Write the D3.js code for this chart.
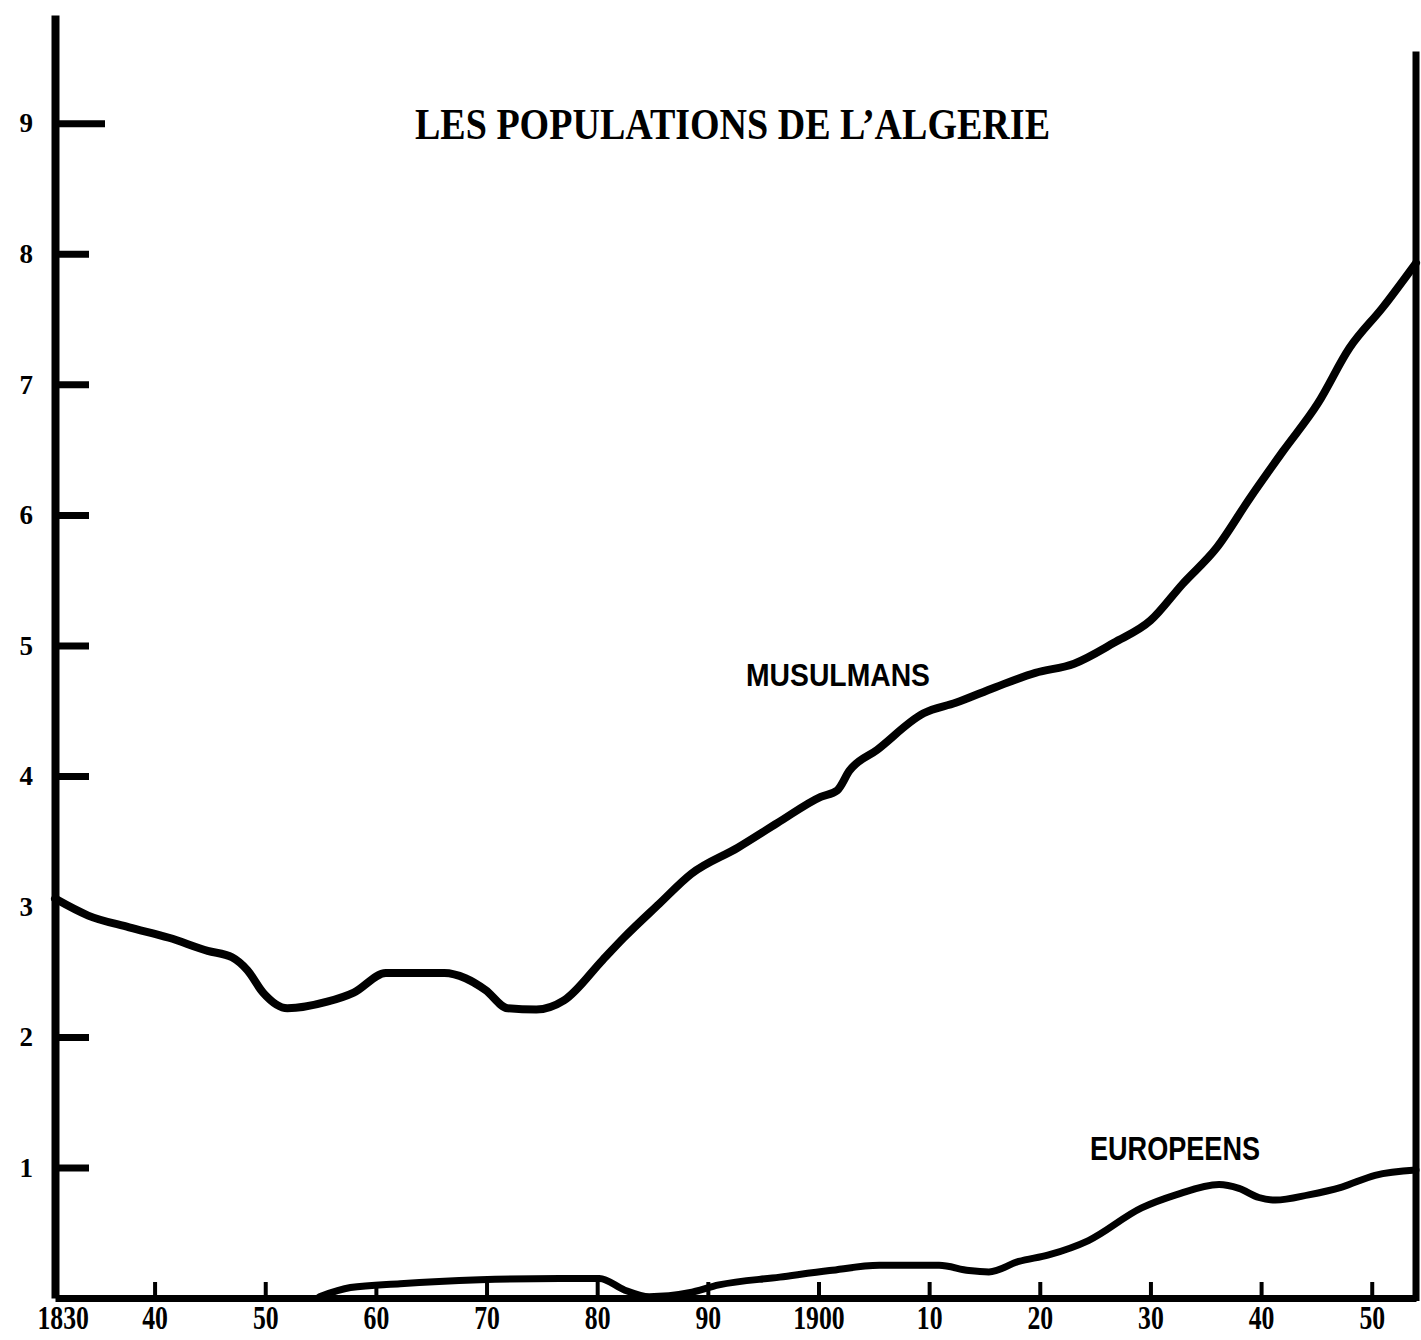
<!DOCTYPE html>
<html>
<head>
<title>Les populations de l'Algérie</title>
<meta charset="utf-8">
<style type="text/css">
body {
	margin: 0;
	background: #fff;
}
svg text {
	fill: #000;
}
</style>
<script src="https://cdn.jsdelivr.net/npm/d3@7/dist/d3.min.js"></script>
</head>
<body>
</body>
<script type="text/javascript">
var width = 1421;
var height = 1340;

// population en millions
var musYears  = [1831, 1834, 1837.7, 1841.3, 1844.8, 1847, 1848.4, 1849.8, 1852, 1855.6, 1858, 1860.9,
	1866.2, 1868.1, 1869.9, 1871.9, 1874.5, 1877, 1880.5, 1882.4, 1885.6, 1888.5, 1892.7, 1896.3,
	1900.2, 1901.7, 1902.8, 1905.3, 1909.5, 1912.4, 1916, 1919.6, 1923.1, 1926.7, 1930, 1932.9,
	1936, 1939, 1942, 1945.1, 1948, 1951, 1954];
var musValues = [3.06, 2.93, 2.84, 2.76, 2.66, 2.61, 2.51, 2.34, 2.22, 2.27, 2.34, 2.49,
	2.49, 2.45, 2.36, 2.22, 2.21, 2.28, 2.59, 2.76, 3.02, 3.25, 3.45, 3.64,
	3.84, 3.89, 4.04, 4.20, 4.48, 4.56, 4.68, 4.79, 4.86, 5.02, 5.19, 5.47,
	5.75, 6.13, 6.49, 6.85, 7.28, 7.59, 7.93];

var eurYears  = [1854.9, 1857.7, 1862.2, 1869.4, 1876.6, 1880.2, 1882.5, 1884.7, 1888.3, 1891, 1896.5,
	1901, 1905.5, 1910.9, 1913.6, 1915.4, 1918.1, 1920.8, 1924.4, 1929.2, 1932.3, 1936.2, 1938,
	1939.8, 1941.3, 1944.3, 1947.3, 1950.3, 1954];
var eurValues = [0.01, 0.08, 0.11, 0.14, 0.15, 0.15, 0.06, 0.01, 0.04, 0.10, 0.16,
	0.21, 0.25, 0.25, 0.21, 0.20, 0.28, 0.33, 0.44, 0.69, 0.79, 0.87, 0.84,
	0.77, 0.75, 0.79, 0.85, 0.94, 0.98];

var yearTicks  = [1830, 1840, 1850, 1860, 1870, 1880, 1890, 1900, 1910, 1920, 1930, 1940, 1950];
var yearLabels = ["1830", "40", "50", "60", "70", "80", "90", "1900", "10", "20", "30", "40", "50"];
var valueTicks = [1, 2, 3, 4, 5, 6, 7, 8, 9];

var title = "LES POPULATIONS DE L\u2019ALGERIE";
var musLabel = "MUSULMANS";
var eurLabel = "EUROPEENS";

var svg = d3.select("body").append("svg")
	.attr("width", width)
	.attr("height", height);

var x = d3.scaleLinear().domain([1831, 1954]).range([55, 1416]);
var y = d3.scaleLinear().domain([0, 9.83]).range([1298, 15]);

// axe vertical
var yAxis = svg.append("g")
	.attr("transform", "translate(" + x(1831) + ",0)")
	.call(d3.axisLeft(y).tickValues(valueTicks).tickSizeInner(-34).tickSizeOuter(0).tickPadding(22));
yAxis.select(".domain").attr("stroke", "#000").attr("stroke-width", 8);
yAxis.selectAll(".tick line").attr("stroke", "#000").attr("stroke-width", 7);
yAxis.selectAll(".tick line").filter(function(d){ return d == 9; }).attr("x2", 50);
yAxis.selectAll(".tick line").filter(function(d){ return d == 3; }).remove();
yAxis.selectAll(".tick text")
	.style("font-family", "Liberation Serif")
	.style("font-weight", "bold")
	.style("font-size", "27px");

// axe horizontal
var xAxis = svg.append("g")
	.attr("transform", "translate(0," + y(0) + ")")
	.call(d3.axisBottom(x).tickValues(yearTicks).tickSizeInner(-16).tickSizeOuter(0).tickPadding(8)
		.tickFormat(function(d, i){ return yearLabels[i]; }));
xAxis.select(".domain").attr("stroke", "#000").attr("stroke-width", 7);
xAxis.selectAll(".tick line").attr("stroke", "#000").attr("stroke-width", 4);
xAxis.selectAll(".tick text")
	.style("font-family", "Liberation Serif")
	.style("font-weight", "bold")
	.style("font-size", "33px")
	.attr("transform", "scale(0.78,1)");
// 1830 : pas de trait, libellé sous le coin
xAxis.selectAll(".tick").filter(function(d){ return d == 1830; })
	.call(function(t){
		t.select("line").remove();
		t.select("text").attr("x", 24);
	});

// bord droit
svg.append("line")
	.attr("x1", x(1954)).attr("x2", x(1954))
	.attr("y1", y(9.55)).attr("y2", y(0) + 3)
	.attr("stroke", "#000")
	.attr("stroke-width", 7);

var line = d3.line()
	.x(function(d){ return x(d[0]); })
	.y(function(d){ return y(d[1]); })
	.curve(d3.curveMonotoneX);

svg.append("path")
	.datum(d3.zip(musYears, musValues))
	.attr("d", line)
	.attr("fill", "none")
	.attr("stroke", "#000")
	.attr("stroke-width", 8)
	.attr("stroke-linecap", "round");

svg.append("path")
	.datum(d3.zip(eurYears, eurValues))
	.attr("d", line)
	.attr("fill", "none")
	.attr("stroke", "#000")
	.attr("stroke-width", 7)
	.attr("stroke-linecap", "round");

// titre et libellés
svg.append("text")
	.attr("x", 415).attr("y", 139)
	.attr("textLength", 635)
	.attr("lengthAdjust", "spacingAndGlyphs")
	.style("font-family", "Liberation Serif")
	.style("font-weight", "bold")
	.style("font-size", "44px")
	.text(title);

svg.append("text")
	.attr("x", 746).attr("y", 686)
	.attr("textLength", 184)
	.attr("lengthAdjust", "spacingAndGlyphs")
	.style("font-family", "Liberation Sans")
	.style("font-weight", "bold")
	.style("font-size", "31px")
	.text(musLabel);

svg.append("text")
	.attr("x", 1090).attr("y", 1160)
	.attr("textLength", 170)
	.attr("lengthAdjust", "spacingAndGlyphs")
	.style("font-family", "Liberation Sans")
	.style("font-weight", "bold")
	.style("font-size", "33px")
	.text(eurLabel);
</script>
</html>
